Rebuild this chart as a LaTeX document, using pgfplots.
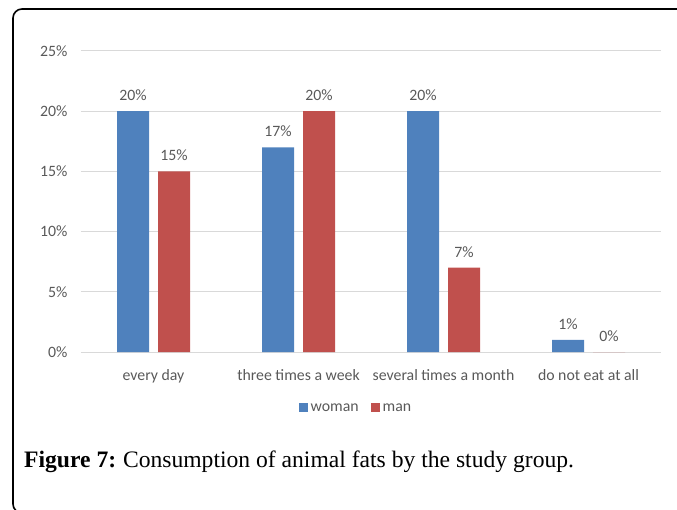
\documentclass[border=0pt]{standalone}
\usepackage{pgfplots}
\pgfplotsset{compat=1.18}
\usepackage{fontspec}
\setmainfont{Carlito}
\newfontfamily\capfont{Liberation Serif}
\definecolor{woman}{HTML}{4F81BD}
\definecolor{man}{HTML}{C0504D}
\definecolor{txt}{HTML}{595959}
\definecolor{gridc}{HTML}{D9D9D9}

\begin{document}
\begin{tikzpicture}
\useasboundingbox (0,0) rectangle (677pt,-510pt);
\draw[line width=1.6pt, rounded corners=9pt] (13pt,-9pt) rectangle (700pt,-513pt);

\begin{axis}[
	at={(81pt,-352pt)}, anchor=south west,
	scale only axis, width=580pt, height=301pt,
	/pgf/number format/assume math mode=true,
	ymin=0, ymax=25, ytick={0,5,10,15,20,25},
	yticklabel={\pgfmathprintnumber{\tick}\%},
	xmin=-0.5, xmax=3.5, xtick={0,1,2,3},
	xticklabels={every day, three times a week, several times a month, do not eat at all},
	axis line style={draw=none},
	major tick length=0pt,
	ymajorgrids,
	grid style={draw=gridc, line width=1pt},
	tick label style={font=\fontsize{15.8}{18}\selectfont, text=txt},
	yticklabel style={xshift=-10pt},
	xticklabel style={yshift=-14pt},
	ybar, bar width=32pt,
	nodes near coords={\pgfmathprintnumber{\pgfplotspointmeta}\%},
	nodes near coords style={font=\fontsize{15.8}{18}\selectfont, text=txt, yshift=7pt},
	legend style={at={(0.474,-0.186)}, anchor=center, draw=none, fill=none,
		legend columns=2, font=\fontsize{15.8}{18}\selectfont, text=txt,
		/tikz/every odd column/.append style={column sep=1pt},
		/tikz/every even column/.append style={column sep=10pt}},
	legend image code/.code={\fill[#1] (0pt,-4.5pt) rectangle (9pt,4.5pt);},
	]
	\addplot[fill=woman, draw=none, bar shift=-20.5pt] coordinates {(0,20) (1,17) (2,20) (3,1)};
	\addplot[fill=man, draw=none, bar shift=20.5pt] coordinates {(0,15) (1,20) (2,7) (3,0)};
	\legend{woman, man}
\end{axis}

\node[anchor=base west, inner sep=0pt, font=\capfont\fontsize{23.6}{28}\selectfont]
	at (24pt,-467pt) {\textbf{Figure 7:}\hspace{-1pt} Consumption of animal fats by the study group.};
\end{tikzpicture}
\end{document}
